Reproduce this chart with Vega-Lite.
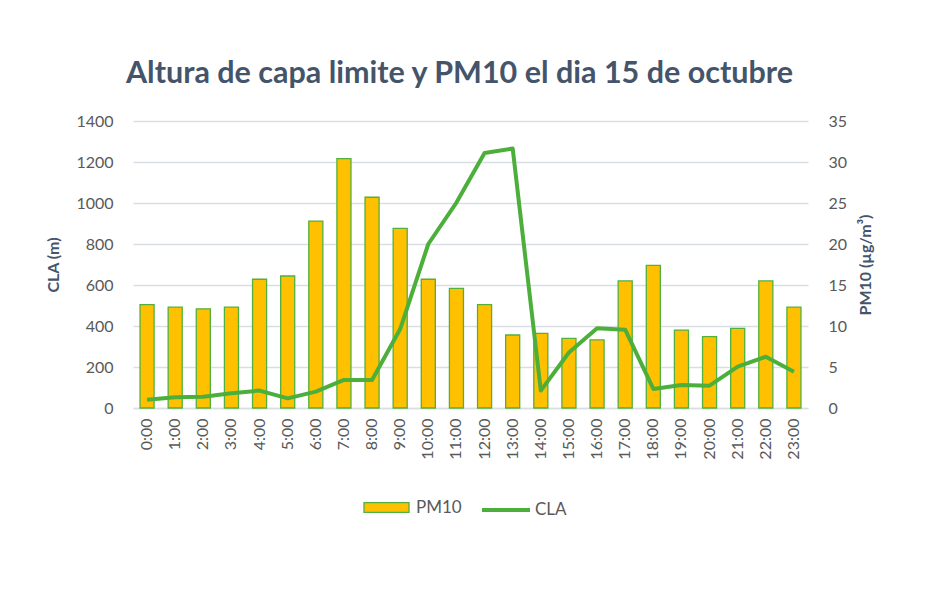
{
  "$schema": "https://vega.github.io/schema/vega-lite/v6.json",
  "width": 675,
  "height": 287,
  "autosize": {"type": "none"},
  "padding": {"left": 133, "top": 121, "right": 127, "bottom": 181},
  "background": "white",
  "config": {
    "font": "Lato",
    "view": {"stroke": null},
    "axis": {"labelColor": "#595959", "labelFontSize": 16, "ticks": false, "domain": false, "titleColor": "#44546A", "titleFontWeight": "bold", "titleFontSize": 16, "labelFont": "Lato", "titleFont": "Lato"}
  },
  "title": {"text": "Altura de capa limite y PM10 el dia 15 de octubre", "font": "Lato", "fontSize": 30.5, "fontWeight": "bold", "color": "#44546A", "anchor": "middle", "dx": -11, "offset": 24},
  "data": {"values": [
    {"hora": "0:00", "PM10": 12.6, "CLA": 40},
    {"hora": "1:00", "PM10": 12.3, "CLA": 52},
    {"hora": "2:00", "PM10": 12.1, "CLA": 55},
    {"hora": "3:00", "PM10": 12.3, "CLA": 72},
    {"hora": "4:00", "PM10": 15.7, "CLA": 85},
    {"hora": "5:00", "PM10": 16.1, "CLA": 47},
    {"hora": "6:00", "PM10": 22.8, "CLA": 80},
    {"hora": "7:00", "PM10": 30.4, "CLA": 137},
    {"hora": "8:00", "PM10": 25.7, "CLA": 137},
    {"hora": "9:00", "PM10": 21.9, "CLA": 385},
    {"hora": "10:00", "PM10": 15.7, "CLA": 800},
    {"hora": "11:00", "PM10": 14.6, "CLA": 1002},
    {"hora": "12:00", "PM10": 12.6, "CLA": 1244},
    {"hora": "13:00", "PM10": 8.9, "CLA": 1266},
    {"hora": "14:00", "PM10": 9.1, "CLA": 85},
    {"hora": "15:00", "PM10": 8.5, "CLA": 271},
    {"hora": "16:00", "PM10": 8.3, "CLA": 389},
    {"hora": "17:00", "PM10": 15.5, "CLA": 382},
    {"hora": "18:00", "PM10": 17.4, "CLA": 93},
    {"hora": "19:00", "PM10": 9.5, "CLA": 112},
    {"hora": "20:00", "PM10": 8.7, "CLA": 109},
    {"hora": "21:00", "PM10": 9.7, "CLA": 202},
    {"hora": "22:00", "PM10": 15.5, "CLA": 250},
    {"hora": "23:00", "PM10": 12.3, "CLA": 177}
  ]},
  "encoding": {
    "x": {"field": "hora", "type": "ordinal", "sort": null,
      "scale": {"paddingInner": 0.5, "paddingOuter": 0.25},
      "axis": {"title": null, "labelAngle": -90, "labelPadding": 10, "domain": true, "domainColor": "#D9DEE5", "domainWidth": 1.5}}
  },
  "layer": [
    {
      "mark": {"type": "bar", "stroke": "#52B03E", "strokeWidth": 1.3},
      "encoding": {
        "y": {"field": "PM10", "type": "quantitative", "scale": {"domain": [0, 35], "nice": false},
          "axis": {"orient": "right", "title": "PM10 (µg/m³)", "titleAngle": 270, "grid": false, "tickCount": 7, "labelPadding": 20, "titlePadding": 27, "labelAlign": "left"}},
        "fill": {"datum": "PM10", "type": "nominal", "scale": {"range": ["#FFC000"]},
          "legend": {"title": null, "orient": "none", "legendX": 230, "legendY": 363, "symbolType": "M-1,-0.22H1V0.22H-1Z", "symbolSize": 2025, "symbolStrokeColor": "#52B03E", "symbolStrokeWidth": 1.3, "labelFontSize": 17, "labelColor": "#595959", "labelOffset": 6}}
      }
    },
    {
      "mark": {"type": "line", "strokeWidth": 4, "strokeJoin": "round"},
      "encoding": {
        "y": {"field": "CLA", "type": "quantitative", "scale": {"domain": [0, 1400], "nice": false},
          "axis": {"orient": "left", "title": "CLA (m)", "format": "d", "grid": true, "gridColor": "#D9DEE5", "gridWidth": 1.5, "tickCount": 7, "labelPadding": 20, "titlePadding": 14}},
        "stroke": {"datum": "CLA", "type": "nominal", "scale": {"range": ["#4DAF3B"]},
          "legend": {"title": null, "orient": "none", "legendX": 347, "legendY": 363, "symbolType": "stroke", "symbolSize": 2304, "symbolStrokeWidth": 4, "labelFontSize": 17, "labelColor": "#595959", "labelOffset": 3}}
      }
    }
  ],
  "resolve": {"scale": {"y": "independent", "fill": "independent", "stroke": "independent"}}
}
